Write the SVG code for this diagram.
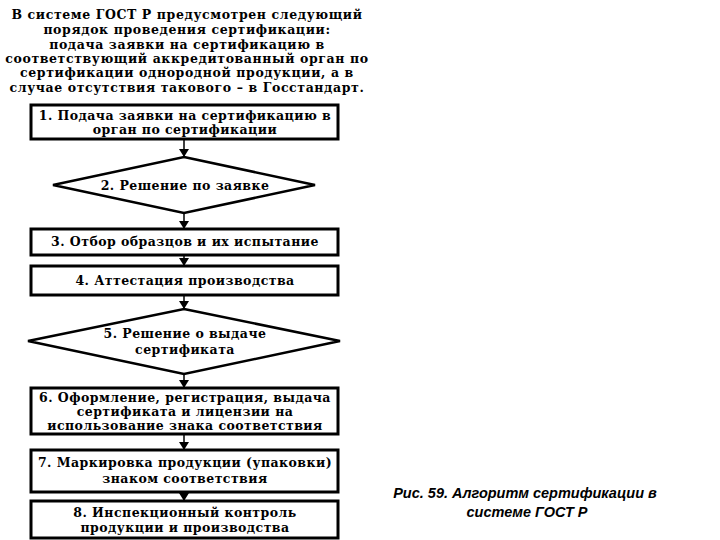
<svg xmlns="http://www.w3.org/2000/svg" width="720" height="540" viewBox="0 0 720 540">
<defs>
<style>
.t{font-family:"DejaVu Serif","Liberation Serif",serif;font-weight:bold;font-size:12.5px;letter-spacing:0.45px;fill:#000;text-anchor:middle}
.h{font-family:"DejaVu Serif","Liberation Serif",serif;font-weight:bold;font-size:12.5px;letter-spacing:0.6px;fill:#000;text-anchor:middle}
.c{font-family:"Liberation Sans",Arial,sans-serif;font-weight:bold;font-style:italic;font-size:14.5px;fill:#000;text-anchor:middle}
.b{fill:#fff;stroke:#000;stroke-width:3}
.d{fill:#fff;stroke:#000;stroke-width:2.5}
.e{stroke:#000;stroke-width:1.5;fill:none;marker-end:url(#a)}
</style>
<marker id="a" markerWidth="8" markerHeight="10" refX="8" refY="5" orient="auto" markerUnits="userSpaceOnUse" viewBox="0 0 8 10">
<path d="M0,0 L8,5 L0,10 Z" fill="#000"/>
</marker>
</defs>
<rect width="720" height="540" fill="#fff"/>
<g id="header">
<text class="h" x="187" y="19">В системе ГОСТ Р предусмотрен следующий</text>
<text class="h" x="187" y="34">порядок проведения сертификации:</text>
<text class="h" x="187" y="49">подача заявки на сертификацию в</text>
<text class="h" x="187" y="63">соответствующий аккредитованный орган по</text>
<text class="h" x="187" y="77">сертификации однородной продукции, а в</text>
<text class="h" x="187" y="92">случае отсутствия такового – в Госстандарт.</text>
</g>
<g id="connectors">
<line class="e" x1="184" y1="139" x2="184" y2="157"/>
<line class="e" x1="184" y1="213" x2="184" y2="229"/>
<line class="e" x1="184" y1="255" x2="184" y2="266"/>
<line class="e" x1="184" y1="295" x2="184" y2="309"/>
<line class="e" x1="184" y1="374" x2="184" y2="388"/>
<line class="e" x1="184" y1="434" x2="184" y2="450"/>
<line class="e" x1="184" y1="492" x2="184" y2="501"/>
</g>
<g id="n1">
<rect class="b" x="31" y="105" width="307" height="34"/>
<text class="t" x="185" y="120">1. Подача заявки на сертификацию в</text>
<text class="t" x="185" y="134">орган по сертификации</text>
</g>
<g id="n2">
<polygon class="d" points="184,157 315,185 184,213 53,185"/>
<text class="t" x="185" y="190">2. Решение по заявке</text>
</g>
<g id="n3">
<rect class="b" x="31" y="229" width="307" height="26"/>
<text class="t" x="185" y="246">3. Отбор образцов и их испытание</text>
</g>
<g id="n4">
<rect class="b" x="31" y="266" width="307" height="29"/>
<text class="t" x="185" y="285">4. Аттестация производства</text>
</g>
<g id="n5">
<polygon class="d" points="184,309 340,341 184,374 28,341"/>
<text class="t" x="185" y="338">5. Решение о выдаче</text>
<text class="t" x="185" y="354">сертификата</text>
</g>
<g id="n6">
<rect class="b" x="31" y="388" width="307" height="46"/>
<text class="t" x="185" y="402">6. Оформление, регистрация, выдача</text>
<text class="t" x="185" y="416">сертификата и лицензии на</text>
<text class="t" x="185" y="430">использование знака соответствия</text>
</g>
<g id="n7">
<rect class="b" x="31" y="450" width="307" height="42"/>
<text class="t" x="185" y="467">7. Маркировка продукции (упаковки)</text>
<text class="t" x="185" y="483">знаком соответствия</text>
</g>
<g id="n8">
<rect class="b" x="31" y="501" width="307" height="37"/>
<text class="t" x="185" y="517">8. Инспекционный контроль</text>
<text class="t" x="185" y="532">продукции и производства</text>
</g>
<g id="caption">
<text class="c" x="525" y="498">Рис. 59. Алгоритм сертификации в</text>
<text class="c" x="527" y="517">системе ГОСТ Р</text>
</g>
</svg>
